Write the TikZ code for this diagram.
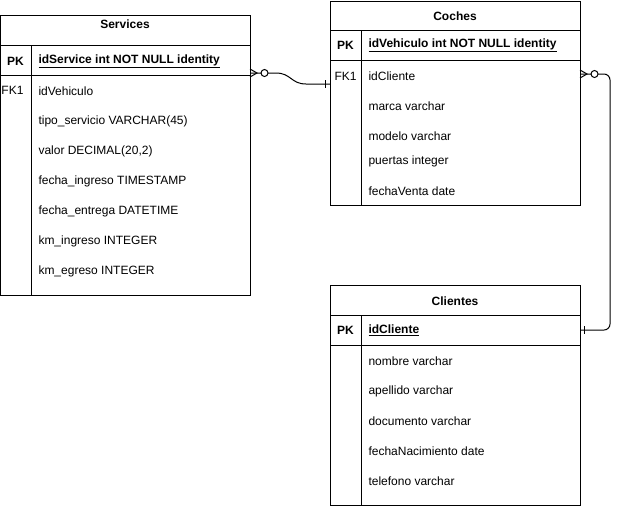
\documentclass[tikz,border=0pt]{standalone}
\usepackage{fontspec}
\setmainfont{Liberation Sans}
\usepackage{tikz}

\begin{document}
\begin{tikzpicture}[x=1pt,y=-1pt,line width=1pt,
    tbl/.style={draw,anchor=north west,minimum width=250,minimum height=#1,inner sep=0pt,outer sep=0pt},
    ttl/.style={font=\fontsize{12}{14}\selectfont\bfseries},
    attr/.style={anchor=west,inner sep=0pt,font=\fontsize{12}{14}\selectfont}]
                    \useasboundingbox (0,0) rectangle (620,507);

                    \node[tbl=280] (svc) at (0,15) {};
                    \node[tbl=204] (coc) at (330,1) {};
                    \node[tbl=220] (cli) at (330,285) {};

                    \draw (0,45) -- (250,45) (0,75) -- (250,75) (31,45) -- (31,295);
                    \draw (330,30) -- (580,30) (330,60) -- (580,60) (361,30) -- (361,205);
                    \draw (330,315) -- (580,315) (330,345) -- (580,345) (361,315) -- (361,505);

                    \node[ttl] (svc-t) at (125,24) {Services};
                    \node[ttl] (coc-t) at (455,16) {Coches};
                    \node[ttl] (cli-t) at (455,301) {Clientes};

                    \node[ttl] (svc-pk) at (15.5,61) {PK};
                    \node[ttl] (coc-pk) at (345.5,45) {PK};
                    \node[ttl] (cli-pk) at (345.5,330) {PK};
                    \node[attr,font=\fontsize{12}{14}\selectfont\bfseries] (svc-id) at (38,61) {\underline{idService int NOT NULL identity}};
                    \node[attr,font=\fontsize{12}{14}\selectfont\bfseries] (coc-id) at (368,45) {\underline{idVehiculo int NOT NULL identity}};
                    \node[attr,font=\fontsize{12}{14}\selectfont\bfseries] (cli-id) at (368,330) {\underline{idCliente}};

                    \node[attr] (svc-fk1) at (1,90) {FK1};
                    \node[attr] (coc-fk1) at (334,76) {FK1};

                    \foreach \t [count=\i] in {idVehiculo,tipo\_servicio VARCHAR(45),{valor DECIMAL(20,2)},fecha\_ingreso TIMESTAMP,fecha\_entrega DATETIME,km\_ingreso INTEGER,km\_egreso INTEGER}
                        \node[attr] (svc-a\i) at (38,{91+30*(\i-1)}) {\t};
                    \foreach \y/\t [count=\i] in {76/idCliente,106/marca varchar,136/modelo varchar,161/puertas integer,191/fechaVenta date}
                        \node[attr] (coc-a\i) at (368,\y) {\t};
                    \foreach \t [count=\i] in {nombre varchar,apellido varchar,documento varchar,fechaNacimiento date,telefono varchar}
                        \node[attr] (cli-a\i) at (368,{361+30*(\i-1)}) {\t};

                    \coordinate (svc-end) at ([yshift=-58pt]svc.north east);
                    \coordinate (coc-in) at ([yshift=-83pt]coc.north west);
                    \coordinate (coc-end) at ([yshift=-73pt]coc.north east);
                    \coordinate (cli-in) at ([yshift=-45pt]cli.north east);

                    \draw (svc-end) -- (276,73) .. controls (291,73) and (291,84) .. (306,84) -- (coc-in);
                    \draw[rounded corners=6pt] (coc-end) -- ++(30,0) |- (cli-in);

                    \draw (svc-end) ++(0,-4) -- ++(7,4) -- ++(-7,4);
                    \draw[fill=white] (svc-end) ++(14.5,0) circle (3.5);
                    \draw (coc-in) ++(-5,-4) -- ++(0,8);
                    \draw (coc-end) ++(0,-4) -- ++(7,4) -- ++(-7,4);
                    \draw[fill=white] (coc-end) ++(14.5,0) circle (3.5);
                    \draw (cli-in) ++(4,-4) -- ++(0,8);
                \end{tikzpicture}
\end{document}
